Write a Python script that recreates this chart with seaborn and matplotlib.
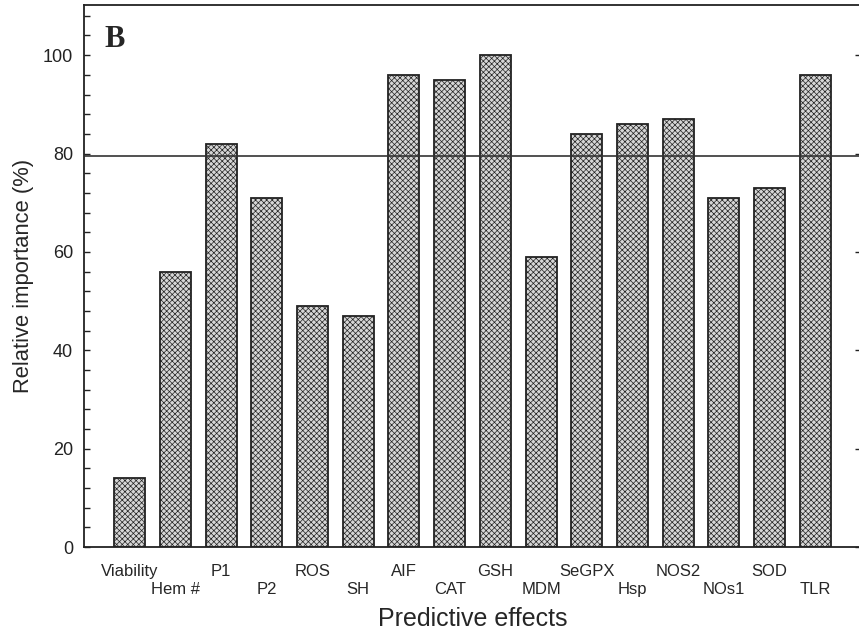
import matplotlib
matplotlib.use("Agg")
import matplotlib.pyplot as plt
import matplotlib.transforms as mtransforms
import seaborn as sns
import pandas as pd

categories = ["Viability", "Hem #", "P1", "P2", "ROS", "SH", "AIF", "CAT",
              "GSH", "MDM", "SeGPX", "Hsp", "NOS2", "NOs1", "SOD", "TLR"]
importance = [14, 56, 82, 71, 49, 47, 96, 95, 100, 59, 84, 86, 87, 71, 73, 96]
threshold = 79.6
y_ticks = [0, 20, 40, 60, 80, 100]

df = pd.DataFrame({"effect": categories, "importance": importance})

sns.set_theme(style="white")
plt.rcParams["font.family"] = ["Liberation Sans", "DejaVu Sans"]
plt.rcParams["hatch.color"] = "#8a8a8a"
plt.rcParams["hatch.linewidth"] = 0.5

fig = plt.figure(figsize=(8.59, 6.34), dpi=100)
ax = fig.add_axes([84 / 859, 1 - 547 / 634, 777 / 859, 542 / 634])

sns.barplot(data=df, x="effect", y="importance", ax=ax, color="#d6d6d6",
            saturation=1, width=0.68, edgecolor="#222222", linewidth=1.3)
for p in ax.patches:
    p.set_hatch("xxxxxx")

ax.axhline(threshold, color="#333333", lw=1.2, zorder=3)

ax.set_xlim(-1, len(categories))
ax.set_ylim(0, 110.2)
ax.set_yticks(y_ticks)
ax.set_yticks(range(0, 110, 4), minor=True)
ax.tick_params(axis="y", which="both", direction="in", left=True, right=True,
               length=4, width=1, labelsize=13, pad=8, colors="#222222")
ax.tick_params(axis="y", which="minor", right=False)
ax.tick_params(axis="x", length=0, labelsize=12, pad=12)

# category names on two staggered rows
ax.set_xticks(range(len(categories)))
ax.set_xticklabels(categories)
drop = mtransforms.ScaledTranslation(0, -0.18, fig.dpi_scale_trans)
for i, lab in enumerate(ax.get_xticklabels()):
    if i % 2 == 1:
        lab.set_transform(lab.get_transform() + drop)

for s in ax.spines.values():
    s.set_color("#222222")
    s.set_linewidth(1.3)

ax.set_xlabel("Predictive effects", fontsize=18)
ax.set_ylabel("Relative importance (%)", fontsize=15.8)
ax.xaxis.set_label_coords(0.5, -(607 - 547) / 542)
ax.yaxis.set_label_coords((13 - 84) / 777, 0.5)
ax.yaxis.label.set_va("top")

# panel letter placed in figure pixels (origin top-left)
pix = mtransforms.Affine2D().scale(1, -1).translate(0, 634)
ax.text(104, 47, "B", transform=pix, fontsize=22, fontweight="bold",
        family="Liberation Serif", va="baseline", ha="left")

fig.savefig("out.png", dpi=100)
